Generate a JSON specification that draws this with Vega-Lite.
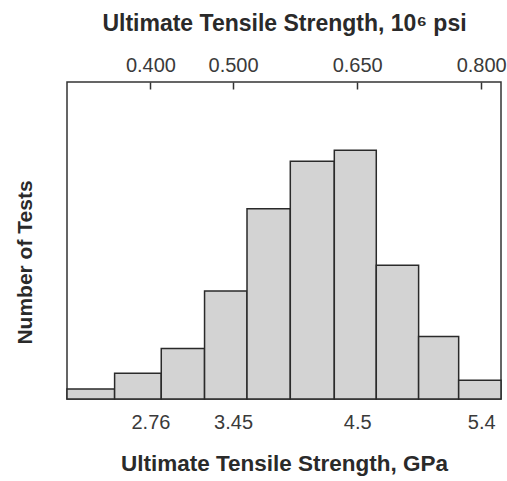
{
  "$schema": "https://vega.github.io/schema/vega-lite/v6.json",
  "width": 434,
  "height": 317,
  "autosize": "none",
  "padding": {"left": 67, "top": 82, "right": 6, "bottom": 82},
  "background": "white",
  "data": {
    "values": [
      {"lo": 2.062, "hi": 2.459, "count": 1.0},
      {"lo": 2.459, "hi": 2.848, "count": 2.6},
      {"lo": 2.848, "hi": 3.209, "count": 5.1},
      {"lo": 3.209, "hi": 3.563, "count": 10.9},
      {"lo": 3.563, "hi": 3.924, "count": 19.2},
      {"lo": 3.924, "hi": 4.291, "count": 24.0},
      {"lo": 4.291, "hi": 4.641, "count": 25.1},
      {"lo": 4.641, "hi": 4.994, "count": 13.5},
      {"lo": 4.994, "hi": 5.328, "count": 6.3},
      {"lo": 5.328, "hi": 5.681, "count": 1.9}
    ]
  },
  "resolve": {"axis": {"x": "independent"}},
  "layer": [
    {
      "mark": {"type": "bar", "fill": "#d3d3d3", "stroke": "#2a2a2a", "strokeWidth": 1.5},
      "encoding": {
        "x": {
          "field": "lo", "type": "quantitative",
          "scale": {"domain": [2.062, 5.681], "nice": false, "zero": false},
          "axis": {
            "orient": "bottom",
            "values": [2.758, 3.447, 4.482, 5.516],
            "labelExpr": "datum.value < 3 ? '2.76' : datum.value < 4 ? '3.45' : datum.value < 5 ? '4.5' : '5.4'",
            "ticks": false, "domain": false, "grid": false,
            "labelPadding": 13,
            "labelFont": "Liberation Sans", "labelFontSize": 20, "labelColor": "#3a3a3a",
            "title": "Ultimate Tensile Strength, GPa",
            "titleFont": "Liberation Sans", "titleFontSize": 22.5, "titleFontWeight": "bold", "titleColor": "#2a2a2a",
            "titlePadding": 20
          }
        },
        "x2": {"field": "hi"},
        "y": {
          "field": "count", "type": "quantitative",
          "scale": {"domain": [0, 32], "nice": false},
          "axis": {
            "labels": false, "ticks": false, "domain": false, "grid": false,
            "title": "Number of Tests",
            "titleFont": "Liberation Sans", "titleFontSize": 21, "titleFontWeight": "bold", "titleColor": "#2a2a2a",
            "titlePadding": 32, "titleY": 180
          }
        },
        "y2": {"datum": 0}
      }
    },
    {
      "mark": {"type": "bar", "opacity": 0},
      "encoding": {
        "x": {
          "field": "lo", "type": "quantitative",
          "axis": {
            "orient": "top",
            "values": [2.758, 3.447, 4.482, 5.516],
            "labelExpr": "datum.value < 3 ? '0.400' : datum.value < 4 ? '0.500' : datum.value < 5 ? '0.650' : '0.800'",
            "ticks": true, "tickSize": -7, "tickWidth": 1.5, "tickColor": "#333",
            "domain": false, "grid": false,
            "labelPadding": 14,
            "labelFont": "Liberation Sans", "labelFontSize": 20, "labelColor": "#3a3a3a",
            "title": "Ultimate Tensile Strength, 10⁶ psi",
            "titleFont": "Liberation Sans", "titleFontSize": 23, "titleFontWeight": "bold", "titleColor": "#2a2a2a",
            "titlePadding": 20
          }
        },
        "x2": {"field": "hi"},
        "y": {
          "field": "count", "type": "quantitative",
          "axis": {
            "labels": false, "ticks": false, "domain": false, "grid": false,
            "title": "Number of Tests",
            "titleFont": "Liberation Sans", "titleFontSize": 21, "titleFontWeight": "bold", "titleColor": "#2a2a2a",
            "titlePadding": 32, "titleY": 180
          }
        },
        "y2": {"datum": 0}
      }
    }
  ],
  "config": {
    "view": {"stroke": "#333", "strokeWidth": 1.5}
  }
}
